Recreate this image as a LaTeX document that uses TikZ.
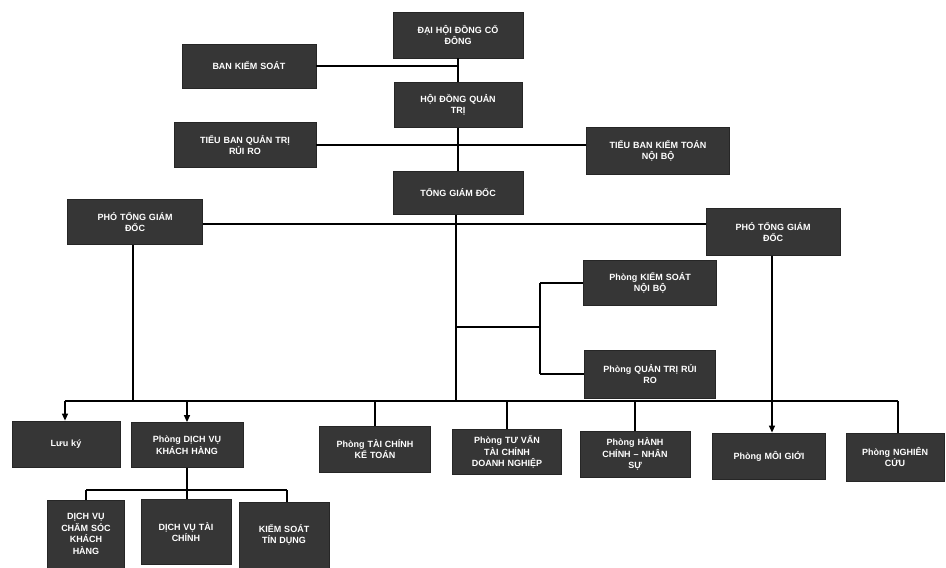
\documentclass[tikz,border=0pt]{standalone}
\usepackage{fontspec}
\setmainfont{Liberation Sans}
\usetikzlibrary{arrows.meta,calc}
\definecolor{boxfill}{HTML}{363636}
\begin{document}
\begin{tikzpicture}[x=1pt,y=-1pt,
  box/.style={draw=black!85, line width=0.8pt, fill=boxfill, text=white,
    font=\fontsize{9}{11.5}\selectfont\bfseries, align=center, inner sep=2pt},
  conn/.style={draw=black, line width=1.3pt},
  arr/.style={conn, -{Triangle[length=7pt,width=6pt]}}]
\useasboundingbox (0,0) rectangle (946,568);
\fill[white] (0,0) rectangle (946,568);
% top hierarchy
\node[box, minimum width=130pt, minimum height=46pt, text width=124pt] (dh) at (458,35) {ĐẠI HỘI ĐỒNG CỔ\\ĐÔNG};
\node[box, minimum width=134pt, minimum height=44pt, text width=128pt] (bks) at (249,66) {BAN KIỂM SOÁT};
\node[box, minimum width=128pt, minimum height=45pt, text width=122pt] (hd) at (458,105) {HỘI ĐỒNG QUẢN\\TRỊ};
\node[box, minimum width=142pt, minimum height=45pt, text width=136pt] (tbrr) at (245,145) {TIỂU BAN QUẢN TRỊ\\RỦI RO};
\node[box, minimum width=143pt, minimum height=47pt, text width=137pt] (tbkt) at (658,151) {TIỂU BAN KIỂM TOÁN\\NỘI BỘ};
\node[box, minimum width=130pt, minimum height=43pt, text width=124pt] (tgd) at (458,193) {TỔNG GIÁM ĐỐC};
\node[box, minimum width=135pt, minimum height=45pt, text width=129pt] (ptl) at (135,222) {PHÓ TỔNG GIÁM\\ĐỐC};
\node[box, minimum width=134pt, minimum height=47pt, text width=128pt] (ptr) at (773,232) {PHÓ TỔNG GIÁM\\ĐỐC};
\node[box, minimum width=133pt, minimum height=45pt, text width=127pt] (ksnb) at (650,283) {Phòng KIỂM SOÁT\\NỘI BỘ};
\node[box, minimum width=131pt, minimum height=48pt, text width=125pt] (qtrr) at (650,374) {Phòng QUẢN TRỊ RỦI\\RO};
% bottom row
\node[box, minimum width=108pt, minimum height=46pt, text width=102pt] (lk) at (66,444) {Lưu ký};
\node[box, minimum width=112pt, minimum height=45pt, text width=106pt] (dvkh) at (187,445) {Phòng DỊCH VỤ\\KHÁCH HÀNG};
\node[box, minimum width=111pt, minimum height=46pt, text width=105pt] (tckt) at (375,449) {Phòng TÀI CHÍNH\\KẾ TOÁN};
\node[box, minimum width=109pt, minimum height=45pt, text width=105pt] (tv) at (507,452) {Phòng TƯ VẤN\\TÀI CHÍNH\\DOANH NGHIỆP};
\node[box, minimum width=110pt, minimum height=46pt, text width=104pt] (hc) at (635,454) {Phòng HÀNH\\CHÍNH – NHÂN\\SỰ};
\node[box, minimum width=113pt, minimum height=46pt, text width=107pt] (mg) at (769,456) {Phòng MÔI GIỚI};
\node[box, minimum width=98pt, minimum height=48pt, text width=94pt] (nc) at (895,457) {Phòng NGHIÊN\\CỨU};
% sub row
\node[box, minimum width=77pt, minimum height=68pt, text width=73pt] (s1) at (86,534) {DỊCH VỤ\\CHĂM SÓC\\KHÁCH\\HÀNG};
\node[box, minimum width=90pt, minimum height=65pt, text width=86pt] (s2) at (186,532) {DỊCH VỤ TÀI\\CHÍNH};
\node[box, minimum width=90pt, minimum height=66pt, text width=86pt] (s3) at (284,535) {KIỂM SOÁT\\TÍN DỤNG};
% coordinates
\coordinate (busL) at (65,401);
\coordinate (busR) at (898,401);
\coordinate (brA) at (456,327);
\coordinate (brB) at (540,327);
\coordinate (subL) at (86,490);
\coordinate (subR) at (287,490);
% connectors top
\draw[conn] (dh.south) -- (hd.north);
\draw[conn] (bks.east) -- (bks.east -| dh.south);
\draw[conn] (hd.south) -- (tgd.north);
\draw[conn] (tbrr.east) -- (tbrr.east -| tbkt.west);
\draw[conn] (ptl.east |- 0,224) -- (ptr.west |- 0,224);
% TGD down to bus
\draw[conn] (tgd.south -| brA) -- (brA |- busL);
\draw[conn] (brA) -- (brB);
\draw[conn] (brB |- ksnb.west) -- (brB |- qtrr.west);
\draw[conn] (brB |- ksnb.west) -- (ksnb.west);
\draw[conn] (brB |- qtrr.west) -- (qtrr.west);
% left PTGD down
\draw[conn] (ptl.south -| 133,0) -- (133,401);
% bus
\draw[conn] (busL) -- (busR);
\draw[arr] (busL) -- (lk.north -| busL);
\draw[arr] (dvkh.north |- busL) -- (dvkh.north);
\draw[conn] (tckt.north |- busL) -- (tckt.north);
\draw[conn] (tv.north |- busL) -- (tv.north);
\draw[conn] (hc.north |- busL) -- (hc.north);
\draw[conn] (busR) -- (busR |- nc.north);
% right PTGD to Moi gioi
\draw[arr] (ptr.south -| 772,0) -- (mg.north -| 772,0);
% sub tree
\draw[conn] (dvkh.south) -- (s2.north -| dvkh.south);
\draw[conn] (subL) -- (subR);
\draw[conn] (subL) -- (s1.north -| subL);
\draw[conn] (subR) -- (s3.north -| subR);
\end{tikzpicture}
\end{document}
